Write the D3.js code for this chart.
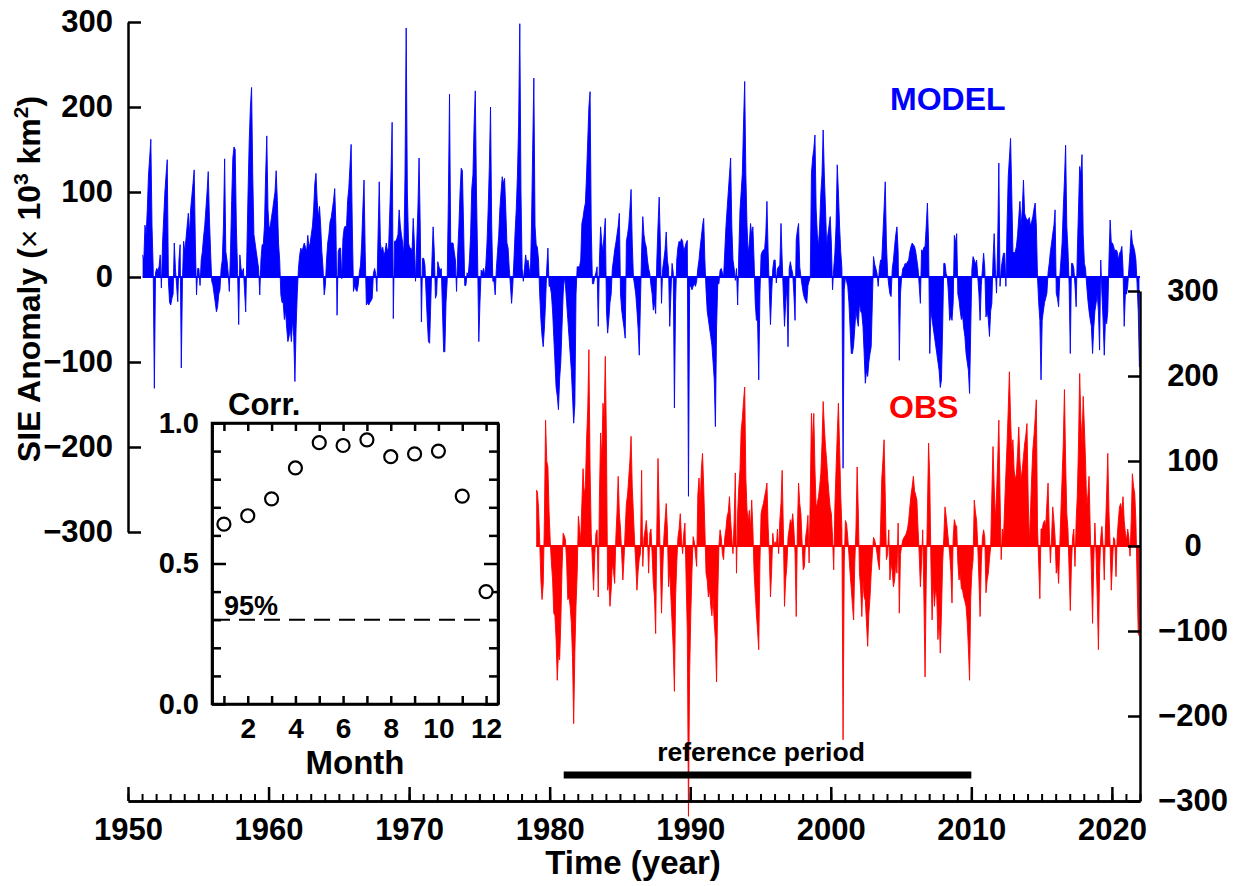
<!DOCTYPE html>
<html>
<head>
<meta charset="utf-8">
<script src="https://cdn.jsdelivr.net/npm/d3@7"></script>
<style>
  body { margin: 0; background: #fff; }
  svg text { font-family: "Liberation Sans", Arial, Helvetica, sans-serif; font-weight: bold; fill: #000; }
</style>
</head>
<body>
<svg id="chart" width="1236" height="886"></svg>
<script>
// monthly SIE anomalies (10^3 km^2), one row per year, Jan..Dec
const modelStart = 1951;
const modelAnom = [
  [26, 20, 61, 49, 80, 120, 140, 162, 60, 10, -131, 5],
  [10, 8, 12, 26, -13, 40, 70, 100, 120, 138, -5, -30],
  [-33, -25, -20, 40, 10, -10, -29, 20, 38, -107, -5, 42],
  [30, 45, 60, 75, 50, 80, 95, 110, 126, 40, -21, 10],
  [10, -10, 20, 30, 47, 60, 80, 100, 124, 70, 30, -5],
  [-10, -20, -30, -41, -35, -20, -15, 10, 20, 60, 139, 30],
  [20, 5, -17, 30, 90, 140, 153, 150, 60, 10, -56, 26],
  [10, 5, 10, -15, -41, 30, 100, 160, 200, 223, 120, 50],
  [40, 30, 20, 10, -21, 20, 38, 38, 60, 120, 166, 80],
  [57, 60, 70, 79, 90, 100, 125, 90, 40, 20, -21, -30],
  [-30, -50, -40, -60, -76, -70, -60, -76, -50, -70, -123, -60],
  [-20, 10, 25, 34, 30, 35, 40, 35, 30, 49, 35, 40],
  [50, 60, 80, 110, 122, 90, 70, 83, 60, 30, 10, -21],
  [-10, 20, 40, 50, 65, 70, 80, 90, 104, 60, -45, 30],
  [34, 34, -2, 45, 57, 60, 57, 90, 104, 130, 156, 60],
  [-17, -10, -15, -17, -10, 5, 14, 40, 80, 114, 30, -33],
  [-30, -33, -30, -28, -25, 4, 10, 4, -17, 50, 112, 40],
  [30, 35, 25, 30, 40, 30, 35, 77, 120, 182, -49, 42],
  [42, 45, 50, 79, 60, 49, 40, 26, 120, 293, 100, 40],
  [34, 34, 30, 69, 40, -5, 40, 80, 140, 60, -53, 22],
  [22, 14, -20, -50, -76, -78, -30, 20, 59, 30, -25, -20],
  [18, 12, 8, 10, -40, -88, -88, -30, -5, 90, 215, 40],
  [40, 40, 30, 20, -17, 30, 60, 100, 128, 125, 60, -10],
  [-10, 5, 2, 20, 50, 104, 120, 180, 219, 100, 20, -76],
  [-30, 8, 5, 10, 2, 14, 40, 80, 130, 200, 60, -5],
  [-5, -21, 10, 30, 49, 80, 100, 118, 110, 116, 80, 40],
  [34, 10, -10, -31, -10, 20, 53, 80, 120, 180, 298, 100],
  [10, -5, 10, 26, 15, 20, 10, 2, 60, 150, 234, 60],
  [38, 35, 20, -20, -50, -70, -82, -60, -30, 10, 34, -11],
  [-11, -20, -40, -70, -100, -130, -140, -156, -120, -100, -60, -20],
  [0, -10, -30, -50, -70, -90, -110, -140, -172, -150, -20, 12],
  [12, 12, 20, 63, 70, 80, 87, 120, 160, 200, 218, 60],
  [-8, -8, 0, 5, 12, -58, 20, 59, 40, 30, 50, 69],
  [-40, -66, -50, -30, -20, 10, 20, 32, 40, 50, 60, 75],
  [-20, -39, -50, -60, -72, 42, 50, 60, 80, 103, 40, 0],
  [-10, -20, -39, -60, -92, -30, 30, 71, 50, 40, 35, 20],
  [10, 4, -10, -20, -39, -30, -43, 20, 60, 94, 40, -31],
  [10, 20, 32, 53, 20, 10, -58, -20, 16, 5, -154, -30],
  [20, 35, 42, 40, 45, 42, 30, 35, 40, 43, -258, -11],
  [-11, -15, -11, -8, -11, -5, 10, 20, 35, 47, 60, 69],
  [20, -15, -40, -50, -60, -70, -80, -100, -120, -176, -60, -8],
  [-8, 8, 10, 5, 0, 30, 59, 80, 100, 120, 140, 60],
  [20, 10, -4, 10, -33, 30, 79, 100, 122, 180, 230, 120],
  [60, 28, 40, 63, 50, 59, 20, -30, -51, -51, -121, -20],
  [26, 30, 32, 32, 50, 89, 30, -15, -56, -20, 10, 20],
  [20, -7, 10, 12, 14, 63, 20, -20, -58, -30, -12, -82],
  [10, 18, 10, 4, -20, -51, 44, 55, 63, 12, 0, -10],
  [-19, -25, -28, -31, -10, -5, 0, 122, 140, 150, 167, 80],
  [50, 36, 60, 98, 120, 173, 120, 80, 36, 50, 60, 71],
  [40, -15, 10, 28, 60, 132, 100, 60, 30, 10, -225, -15],
  [0, -5, -11, -30, -60, -90, -90, -80, -60, -40, -50, -58],
  [-30, -40, -43, -58, -90, -125, -110, -117, -100, -90, -82, -30],
  [24, 15, 10, 4, -11, 10, 20, 20, 50, 80, 112, 40],
  [4, -10, -20, -23, 10, 20, 36, 50, 59, 30, -98, -20],
  [0, 10, 12, 16, 15, 18, 20, 30, 36, 40, 38, 36],
  [30, 20, 10, -10, -31, 32, 30, 35, 36, 60, 87, 40],
  [-90, -40, -50, -60, -70, -80, -90, -100, -110, -130, -121, -60],
  [16, 16, 4, 0, -20, -51, -45, -51, -30, 49, 40, 51],
  [-20, -27, -40, -50, -45, -60, -70, -90, -100, -110, -137, -60],
  [10, 24, 20, 15, 20, 0, -20, -51, -10, 10, 28, 10],
  [-47, -40, -50, -70, -40, -31, 20, 51, 10, -19, 40, 134],
  [-11, 10, 20, 28, 28, -11, 60, 118, 140, 163, 100, 30],
  [28, 30, 36, 50, 70, 89, 60, 80, 114, 75, 70, 67],
  [67, 70, 60, 65, 71, 80, 87, 60, 0, -30, -51, -121],
  [-51, -40, -30, -25, -19, 5, 16, 30, 40, 51, 60, 79],
  [-19, -25, -35, 0, 20, 40, 80, 114, 155, 60, 32, -10],
  [-90, 16, 16, 10, -10, -35, 30, 80, 130, 120, 144, 50],
  [16, 10, -10, -27, -40, -50, -58, -90, -60, -40, -31, -20],
  [-40, -86, 20, -20, -51, -92, -50, -55, -40, 20, 67, 40],
  [40, 36, 30, 32, 30, 20, 28, 30, 36, 10, -58, -20],
  [-20, -11, 10, 30, 55, 40, 36, 30, 20, -8, -40, -106]
];

const obsStart = 1979;
const obsAnom = [
  [66, 64, 45, 5, -40, -63, -45, 30, 148, 100, 93, 40],
  [5, -20, -40, -79, -82, -110, -158, -125, -134, -90, -30, 15],
  [12, 7, -20, -63, -60, -71, -91, -130, -209, -125, -70, -32],
  [35, 20, 7, 50, 91, 60, 70, 125, 160, 231, 90, 15],
  [-20, -52, -10, 15, 19, -60, 60, 133, 100, 168, 150, 223],
  [120, -52, -40, -71, -52, -20, -30, -44, 10, 40, 82, 38],
  [20, -10, -40, -15, 20, 50, 60, 80, 100, 129, 70, 38],
  [5, -20, -52, -30, -15, -9, 89, -24, 10, 19, 30, 11],
  [-32, 15, 20, -10, -44, -60, -103, 20, 103, 40, -20, -79],
  [-30, 10, 30, 50, 20, -48, -28, -60, -90, -120, -171, -60],
  [-20, 10, 20, 38, 10, -9, 15, 27, -40, -100, -318, -150],
  [-80, -30, 11, 5, -10, -24, 60, 80, 50, 90, 109, 70],
  [20, -32, -40, -60, -50, -70, -82, -60, -90, -110, -160, -60],
  [0, 19, 10, -10, -16, 10, 20, 35, 40, 58, 30, 10],
  [-9, 30, 86, -32, 40, 70, 90, 136, 150, 170, 187, 80],
  [42, 30, 42, 20, 54, 20, -30, -56, -80, -100, -122, -20],
  [38, 45, 50, 58, 65, 74, 23, -10, -60, -30, 15, 0],
  [5, -1, 20, -9, 30, 50, 89, 20, -71, -40, -24, 10],
  [20, 31, 25, 38, 20, -9, -83, 20, 74, 50, 38, 5],
  [-28, -24, 10, 20, 36, -20, 60, 156, 120, 156, 90, 46],
  [50, 58, 70, 85, 120, 170, 140, 117, 100, 78, 60, 45],
  [38, 10, -28, 46, 90, 130, 168, 117, 60, 20, -228, -20],
  [30, 26, 10, -10, -32, -50, -70, -87, -20, 20, 93, 40],
  [-32, -50, -83, -40, -60, -64, -90, -118, -80, -60, -32, -10],
  [10, 7, 0, -9, -20, -28, 20, 78, 100, 125, 60, -16],
  [-10, 19, -40, -20, -30, -48, -40, -20, -32, 27, -79, -10],
  [0, 7, 10, 12, 15, 20, 30, 46, 60, 70, 82, 65],
  [60, 54, 20, -10, -48, -20, 19, -60, -154, -40, 40, 121],
  [80, -20, -87, -40, -71, -50, -60, -110, -80, -126, -79, -20],
  [10, 46, 35, 20, 5, -9, -30, -67, 10, 31, 25, 23],
  [-20, -40, -32, -50, -52, -60, -65, -71, -90, -120, -158, -60],
  [-30, -16, 54, 40, 30, 0, -40, -83, -20, 10, 19, 10],
  [-55, -40, -32, -15, -1, 60, 117, 70, 31, 60, 100, 148],
  [60, -16, 20, 11, 50, 85, 120, 160, 205, 150, 110, 125],
  [90, 78, 85, 110, 140, 100, 78, 90, 105, 120, 130, 144],
  [60, 3, 40, 80, 113, 130, 150, 172, 23, -20, -62, 20],
  [20, 27, 30, 23, 50, 74, 20, -20, 10, 46, 30, 10],
  [-32, -20, -44, 0, 42, 80, 120, 184, 100, 38, 20, -30],
  [-76, -20, 11, 20, -24, 30, 60, 120, 203, 150, 120, 176],
  [140, 100, 46, 60, 82, 20, -30, -91, -20, 27, -10, -60],
  [-122, -30, 10, 23, 0, -40, 20, 60, 109, 40, 0, -52],
  [-20, 10, 7, -36, 10, 30, 46, 50, 40, 58, 30, 15],
  [7, 20, 10, -12, 30, 85, 70, 62, 30, -40, -103, -106]
];

// inset: model-obs correlation by calendar month
const corrMonths = [1, 2, 3, 4, 5, 6, 7, 8, 9, 10, 11, 12];
const corrValues = [0.64, 0.67, 0.73, 0.84, 0.93, 0.92, 0.94, 0.88, 0.89, 0.90, 0.74, 0.40];
const sigLevel = 0.30;

const refPeriod = [1981, 2010];
const anomTicks = [300, 200, 100, 0, -100, -200, -300];
const decadeTicks = [1950, 1960, 1970, 1980, 1990, 2000, 2010, 2020];
const yearMinorTicks = d3.range(1950, 2023);
const corrMajorTicks = [0, 0.5, 1];
const corrMinorTicks = [0.1, 0.2, 0.3, 0.4, 0.6, 0.7, 0.8, 0.9];
const monthLabelTicks = [2, 4, 6, 8, 10, 12];

const svg = d3.select("#chart");

const x = d3.scaleLinear().domain([1950, 2022]).range([128, 1140]);
const yL = d3.scaleLinear().domain([-300, 300]).range([532, 22]);
const yR = d3.scaleLinear().domain([-300, 300]).range([801, 291]);

const fmtAnom = d => d < 0 ? "\u2212" + Math.abs(d) : String(d);

function toSeries(rows, start) {
  return rows.flat().map((v, i) => ({ t: start + (i + 0.5) / 12, v: v }));
}

function drawSeries(data, y, color) {
  const area = d3.area().x(d => x(d.t)).y0(y(0)).y1(d => y(d.v));
  const line = d3.line().x(d => x(d.t)).y(d => y(d.v));
  svg.append("path").datum(data).attr("d", area).attr("fill", color);
  svg.append("path").datum(data).attr("d", line)
    .attr("fill", "none").attr("stroke", color).attr("stroke-width", 0.9);
  svg.append("line")
    .attr("x1", x(data[0].t)).attr("x2", x(2022))
    .attr("y1", y(0)).attr("y2", y(0))
    .attr("stroke", color).attr("stroke-width", 2);
}

drawSeries(toSeries(modelAnom, modelStart), yL, "#0000ff");
drawSeries(toSeries(obsAnom, obsStart), yR, "#ff0000");

function styleAxis(g, size) {
  g.attr("font-family", null).attr("font-size", null);
  g.select(".domain").attr("stroke-width", 2.5);
  g.selectAll(".tick line").attr("stroke-width", 2.5);
  g.selectAll(".tick text").style("font-size", size + "px");
}

// left axis (model)
svg.append("g").attr("transform", "translate(128,0)")
  .call(d3.axisLeft(yL).tickValues(anomTicks).tickSize(-13).tickSizeOuter(0)
    .tickPadding(15).tickFormat(fmtAnom))
  .call(g => styleAxis(g, 31));

// right axis (obs)
svg.append("g").attr("transform", "translate(1140,0)")
  .call(d3.axisRight(yR).tickValues(anomTicks).tickSize(-12).tickSizeOuter(0)
    .tickPadding(53).tickFormat(fmtAnom))
  .call(g => styleAxis(g, 31))
  .call(g => g.selectAll(".tick text").attr("text-anchor", "middle"));

// bottom time axis
svg.append("g").attr("transform", "translate(0,801)")
  .call(d3.axisBottom(x).tickValues(yearMinorTicks).tickSize(-7).tickSizeOuter(0).tickFormat(""))
  .call(g => styleAxis(g, 31))
  .call(g => g.selectAll(".tick line").attr("stroke-width", 2));
svg.append("g").attr("transform", "translate(0,801)")
  .call(d3.axisBottom(x).tickValues(decadeTicks).tickSize(-14).tickSizeOuter(0)
    .tickPadding(17).tickFormat(d3.format("d")))
  .call(g => styleAxis(g, 31));

// reference period bar
svg.append("line")
  .attr("x1", x(refPeriod[0])).attr("x2", x(refPeriod[1]))
  .attr("y1", 775).attr("y2", 775)
  .attr("stroke", "#000").attr("stroke-width", 7);
svg.append("text").attr("x", 761).attr("y", 761)
  .attr("text-anchor", "middle").style("font-size", "26.5px")
  .text("reference period");

// labels
svg.append("text").attr("x", 890).attr("y", 110)
  .style("font-size", "32px").style("fill", "#0000ff").text("MODEL");
svg.append("text").attr("x", 889).attr("y", 418)
  .style("font-size", "32px").style("fill", "#ff0000").text("OBS");

svg.append("text").attr("x", 633).attr("y", 874)
  .attr("text-anchor", "middle").style("font-size", "33px").text("Time (year)");

const yl = svg.append("text")
  .attr("transform", "translate(40,279) rotate(-90)")
  .attr("text-anchor", "middle").style("font-size", "32px");
yl.append("tspan").text("SIE Anomaly (");
yl.append("tspan").style("font-weight", "normal").text("\u00d7 ");
yl.append("tspan").text("10");
yl.append("tspan").attr("dy", -12).style("font-size", "21px").text("3");
yl.append("tspan").attr("dy", 12).text(" km");
yl.append("tspan").attr("dy", -12).style("font-size", "21px").text("2");
yl.append("tspan").attr("dy", 12).text(")");

// ---- inset ----
const ix = d3.scaleLinear().domain([0.5, 12.5]).range([212, 498]);
const iy = d3.scaleLinear().domain([0, 1]).range([704, 423]);

const inset = svg.append("g");
inset.append("rect").attr("x", 212).attr("y", 423).attr("width", 286).attr("height", 281)
  .attr("fill", "#fff").attr("stroke", "none");

inset.append("g").attr("transform", "translate(0,704)")
  .call(d3.axisBottom(ix).tickValues(corrMonths).tickSize(-8).tickSizeOuter(0)
    .tickPadding(14).tickFormat(d => monthLabelTicks.includes(d) ? d : ""))
  .call(g => styleAxis(g, 28));
inset.append("g").attr("transform", "translate(0,423)")
  .call(d3.axisTop(ix).tickValues(corrMonths).tickSize(-8).tickSizeOuter(0).tickFormat(""))
  .call(g => styleAxis(g, 28));
inset.append("g").attr("transform", "translate(212,0)")
  .call(d3.axisLeft(iy).tickValues(corrMajorTicks).tickSize(-14).tickSizeOuter(0)
    .tickPadding(13).tickFormat(d3.format(".1f")))
  .call(g => styleAxis(g, 29));
inset.append("g").attr("transform", "translate(212,0)")
  .call(d3.axisLeft(iy).tickValues(corrMinorTicks).tickSize(-9).tickSizeOuter(0).tickFormat(""))
  .call(g => styleAxis(g, 29));
inset.append("g").attr("transform", "translate(498,0)")
  .call(d3.axisRight(iy).tickValues(corrMajorTicks).tickSize(-14).tickSizeOuter(0).tickFormat(""))
  .call(g => styleAxis(g, 29));
inset.append("g").attr("transform", "translate(498,0)")
  .call(d3.axisRight(iy).tickValues(corrMinorTicks).tickSize(-9).tickSizeOuter(0).tickFormat(""))
  .call(g => styleAxis(g, 29));

inset.append("rect").attr("x", 212).attr("y", 423).attr("width", 286).attr("height", 281)
  .attr("fill", "none").attr("stroke", "#000").attr("stroke-width", 2.5);

inset.append("line")
  .attr("x1", 214).attr("x2", 496)
  .attr("y1", iy(sigLevel)).attr("y2", iy(sigLevel))
  .attr("stroke", "#000").attr("stroke-width", 2).attr("stroke-dasharray", "16,9");
inset.append("text").attr("x", 224).attr("y", 615)
  .style("font-size", "27px").text("95%");

inset.selectAll("circle.corr")
  .data(corrMonths.map((m, i) => ({ m: m, r: corrValues[i] })))
  .enter().append("circle")
  .attr("class", "corr")
  .attr("cx", d => ix(d.m)).attr("cy", d => iy(d.r)).attr("r", 6.5)
  .attr("fill", "#fff").attr("stroke", "#000").attr("stroke-width", 2.2);

inset.append("text").attr("x", 228).attr("y", 415)
  .style("font-size", "31px").text("Corr.");
inset.append("text").attr("x", 355).attr("y", 774)
  .attr("text-anchor", "middle").style("font-size", "33px").text("Month");
</script>
</body>
</html>
